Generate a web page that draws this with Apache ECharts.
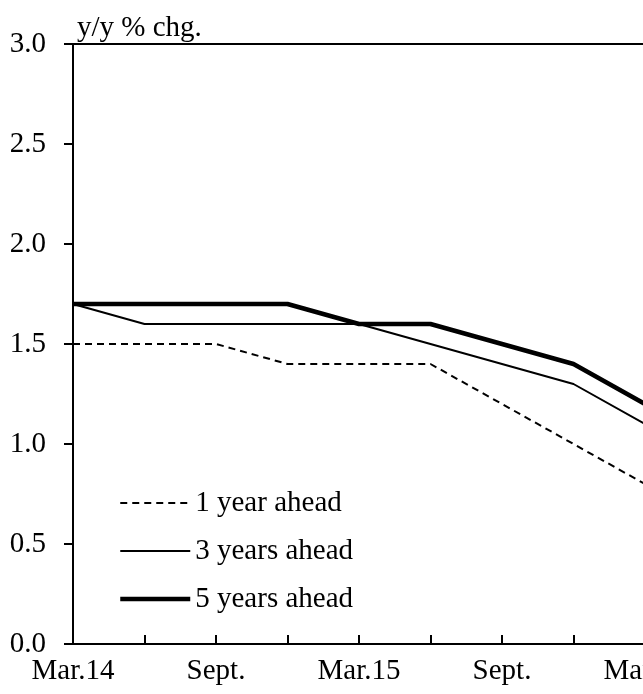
<!DOCTYPE html>
<html>
<head>
<meta charset="utf-8">
<script src="https://cdn.jsdelivr.net/npm/echarts@6/dist/echarts.min.js"></script>
<style>
  html, body { margin: 0; padding: 0; background: #fff; }
  #chart { width: 643px; height: 694px; }
</style>
</head>
<body>
<div id="chart"></div>
<script>
const FONT = '"Liberation Serif", "Times New Roman", serif'

// quarterly observations, Mar.14 .. Mar.16
const categories = ['Mar.14', 'Jun.14', 'Sept.14', 'Dec.14', 'Mar.15', 'Jun.15', 'Sept.15', 'Dec.15', 'Mar.16']
const tickLabels = ['Mar.14', '', 'Sept.', '', 'Mar.15', '', 'Sept.', '', 'Mar.16']
const oneYear = [1.5, 1.5, 1.5, 1.4, 1.4, 1.4, 1.2, 1.0, 0.8]
const threeYears = [1.7, 1.6, 1.6, 1.6, 1.6, 1.5, 1.4, 1.3, 1.1]
const fiveYears = [1.7, 1.7, 1.7, 1.7, 1.6, 1.6, 1.5, 1.4, 1.2]

const chart = echarts.init(document.getElementById('chart'), null, { renderer: 'canvas' })

const axisLine = { lineStyle: { color: '#000', width: 2 } }
const txt = { fontFamily: FONT, fontSize: 29, color: '#000' }
const dash = { color: '#000', width: 2, type: [7, 5] }
const thin = { color: '#000', width: 2 }
const thick = { color: '#000', width: 4.5 }

chart.setOption({
  animation: false,
  backgroundColor: '#fff',
  textStyle: { fontFamily: FONT, color: '#000' },
  grid: { left: 73, top: 44, width: 572, height: 600, outerBoundsMode: 'none' },
  legend: {
    orient: 'vertical', left: 118, top: 488, padding: 0,
    itemWidth: 70, itemHeight: 20, itemGap: 18,
    itemStyle: { opacity: 0 },
    textStyle: { ...txt, lineHeight: 30 },
    data: [
      { name: '1 year ahead', lineStyle: dash },
      { name: '3 years ahead', lineStyle: thin },
      { name: '5 years ahead', lineStyle: thick },
    ],
  },
  xAxis: [{
    type: 'category', data: categories, boundaryGap: false,
    axisLine,
    axisTick: { inside: true, length: 9, interval: 0, lineStyle: { color: '#000', width: 2 } },
    axisLabel: { ...txt, interval: 0, margin: 13, formatter: (v, i) => tickLabels[i] },
  }, {
    type: 'category', data: categories, boundaryGap: false, position: 'top',
    axisLine, axisTick: { show: false }, axisLabel: { show: false },
  }],
  yAxis: {
    type: 'value', min: 0, max: 3, interval: 0.5,
    name: 'y/y % chg.', nameLocation: 'end', nameGap: 1,
    nameTextStyle: { ...txt, align: 'left', padding: [0, 0, 0, 4] },
    axisLine: { show: true, lineStyle: { color: '#000', width: 2 } },
    axisTick: { show: true, length: 9, lineStyle: { color: '#000', width: 2 } },
    axisLabel: { ...txt, margin: 27, formatter: v => v.toFixed(1) },
    splitLine: { show: false },
  },
  series: [
    { name: '1 year ahead', type: 'line', data: oneYear, symbol: 'none', lineStyle: dash, itemStyle: { color: '#000' } },
    { name: '3 years ahead', type: 'line', data: threeYears, symbol: 'none', lineStyle: thin, itemStyle: { color: '#000' } },
    { name: '5 years ahead', type: 'line', data: fiveYears, symbol: 'none', lineStyle: thick, itemStyle: { color: '#000' } },
  ],
})
</script>
</body>
</html>
